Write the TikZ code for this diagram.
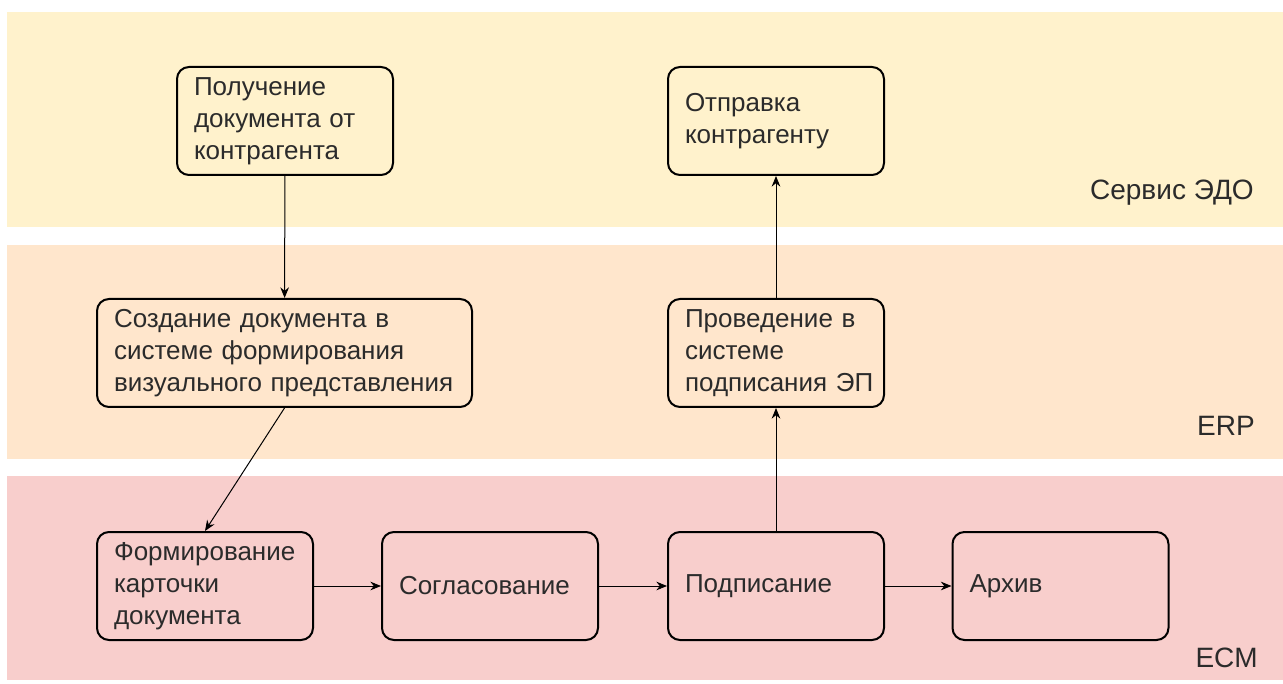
\documentclass[tikz,border=0pt]{standalone}
\usepackage{fontspec}
\setmainfont{Liberation Sans}
\usetikzlibrary{arrows.meta}
\definecolor{edo}{HTML}{FFF2CC}
\definecolor{erp}{HTML}{FFE6CC}
\definecolor{ecm}{HTML}{F8CECC}
\definecolor{txt}{HTML}{2B2B2B}
\newcommand{\ind}{\hspace*{6.75pt}}
\begin{document}
\begin{tikzpicture}[x=0.75pt,y=-0.75pt,
  box/.style={draw=black, line width=1.5pt, rounded corners=9pt,
    minimum height=81pt, inner xsep=6pt, inner ysep=0pt,
    align=left, text=txt, font=\fontsize{19.5}{24}\selectfont},
  narrow/.style={text width=150pt, minimum width=162pt},
  wide/.style={text width=269.25pt, minimum width=281.25pt},
  lanelabel/.style={anchor=east, text=txt, inner sep=0pt, font=\fontsize{21}{24}\selectfont},
  flow/.style={-{Stealth[length=8pt,width=6.5pt]}, line width=0.75pt, draw=black}]
\useasboundingbox (0,0) rectangle (1283,684);
\fill[edo] (7,12) rectangle (1283,227);
\fill[erp] (7,245) rectangle (1283,459);
\fill[ecm] (7,476) rectangle (1283,680);

\node[lanelabel] (lEDO) at (1254,193) {Сервис ЭДО};
\node[lanelabel] (lERP) at (1255,426) {ERP};
\node[lanelabel] (lECM) at (1258,658) {ECM};

\node[box, narrow] (get) at (285,121) {\ind Получение\\\ind документа от\\\ind контрагента};
\node[box, narrow] (send) at (776,121) {\ind Отправка\\\ind контрагенту};
\node[box, wide] (create) at (284.5,353) {\ind Создание документа в\\\ind системе формирования\\\ind визуального представления};
\node[box, narrow] (post) at (776,353) {\ind Проведение в\\\ind системе\\\ind подписания ЭП};
\node[box, narrow] (form) at (205,586) {\ind Формирование\\\ind карточки\\\ind документа};
\node[box, narrow] (agree) at (490,586) {\ind Согласование};
\node[box, narrow] (sign) at (776,586) {\ind Подписание};
\node[box, narrow] (arch) at (1060.5,586) {\ind Архив};

\draw[flow] (get) -- (create);
\draw[flow] (create.south) -- (form.north);
\draw[flow] (form) -- (agree);
\draw[flow] (agree) -- (sign);
\draw[flow] (sign) -- (arch);
\draw[flow] (sign) -- (post);
\draw[flow] (post) -- (send);
\end{tikzpicture}
\end{document}
